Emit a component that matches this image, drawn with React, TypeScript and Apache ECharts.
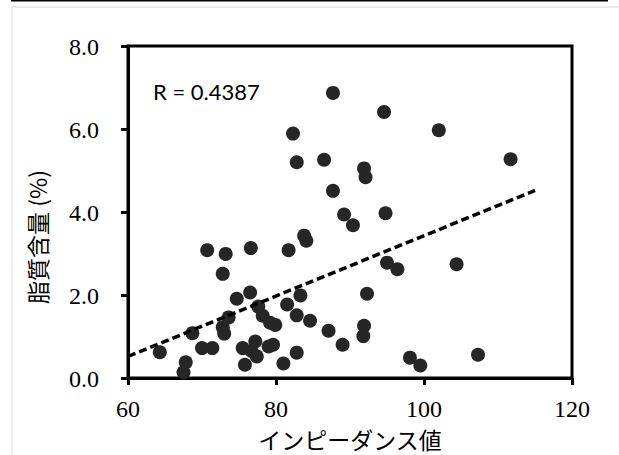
import React, { useEffect, useRef } from "react";
import * as echarts from "echarts";

// Scatter data: [impedance, lipid content (%)]
const impedance: number[] = [
  87.7, 94.6, 102.0, 82.3, 111.7, 82.8, 86.5, 91.9, 92.1, 87.7,
  89.2, 94.8, 90.4, 83.8, 84.1, 70.7, 73.2, 76.6, 81.7, 72.8,
  95.0, 96.4, 104.4, 74.7, 76.5, 83.3, 92.3, 81.5, 77.6, 78.2,
  73.6, 82.8, 84.6, 79.2, 79.9, 72.8, 73.0, 68.7, 87.1, 91.9,
  91.8, 89.0, 64.3, 70.0, 71.4, 75.5, 77.2, 76.7, 79.0, 79.6,
  77.4, 75.8, 82.8, 81.0, 67.8, 67.5, 98.1, 99.5, 107.3,
];
const lipid: number[] = [
  6.87, 6.41, 5.97, 5.89, 5.27, 5.20, 5.26, 5.05, 4.84, 4.51,
  3.94, 3.97, 3.68, 3.43, 3.31, 3.08, 2.99, 3.13, 3.08, 2.51,
  2.78, 2.62, 2.74, 1.91, 2.06, 1.99, 2.03, 1.77, 1.72, 1.50,
  1.46, 1.51, 1.38, 1.33, 1.28, 1.22, 1.07, 1.08, 1.14, 1.26,
  1.01, 0.80, 0.62, 0.72, 0.72, 0.72, 0.88, 0.65, 0.76, 0.80,
  0.52, 0.32, 0.61, 0.35, 0.38, 0.14, 0.49, 0.30, 0.56,
];

// Linear trend line endpoints
const trendX: number[] = [60, 115];
const trendY: number[] = [0.52, 4.52];

// Axis ticks
const xTickValues: number[] = [60, 80, 100, 120];
const yTickValues: number[] = [0, 2, 4, 6, 8];

const xTitle = "インピーダンス値";
const yTitle = "脂質含量 (%)";
const rLabel = "R = 0.4387";

export default function App() {
  const ref = useRef<HTMLDivElement>(null);

  useEffect(() => {
    document.body.style.margin = "0";
    if (!ref.current) return;
    const chart = echarts.init(ref.current, undefined, { renderer: "svg" });

    const points = impedance.map((x, i) => [x, lipid[i]]);
    const trend = trendX.map((x, i) => [x, trendY[i]]);

    const serif = "Times New Roman";
    const cjk = "Noto Sans CJK JP";

    const xMin = xTickValues[0];
    const xMax = xTickValues[xTickValues.length - 1];
    const xInt = xTickValues[1] - xTickValues[0];
    const yMin = yTickValues[0];
    const yMax = yTickValues[yTickValues.length - 1];
    const yInt = yTickValues[1] - yTickValues[0];

    const staticGraphics: any[] = [
      {
        type: "rect",
        shape: { x: 12, y: 7, width: 700, height: 600 },
        style: { fill: "none", stroke: "#d9d9d9", lineWidth: 1 },
        silent: true,
        z: -1,
      },
      {
        type: "rect",
        shape: { x: 11, y: 0, width: 597, height: 1.5 },
        style: { fill: "#000" },
        silent: true,
      },
      {
        type: "text",
        x: 153,
        y: 91,
        style: {
          text: rLabel,
          fontFamily: "Lato",
          fontSize: 22,
          fill: "#000",
          align: "left",
          verticalAlign: "middle",
        },
      },
      {
        type: "text",
        x: 37,
        y: 237,
        rotation: Math.PI / 2,
        style: {
          text: yTitle,
          fontFamily: cjk,
          fontSize: 23,
          fill: "#000",
          align: "center",
          verticalAlign: "middle",
        },
      },
    ];

    chart.setOption({
      animation: false,
      backgroundColor: "#ffffff",
      grid: {
        left: 128,
        top: 46,
        right: 47,
        bottom: 74,
        show: true,
        borderColor: "#000",
        borderWidth: 3,
        backgroundColor: "transparent",
      },
      xAxis: {
        type: "value",
        min: xMin,
        max: xMax,
        interval: xInt,
        axisLine: { show: true, lineStyle: { color: "#000", width: 3 } },
        axisTick: { show: true, inside: false, length: 7, lineStyle: { color: "#000", width: 3 } },
        splitLine: { show: false },
        axisLabel: { show: false },
        name: xTitle,
        nameLocation: "middle",
        nameGap: 49,
        nameTextStyle: { color: "#000", fontFamily: cjk, fontSize: 23 },
      },
      yAxis: {
        type: "value",
        min: yMin,
        max: yMax,
        interval: yInt,
        axisLine: { show: true, lineStyle: { color: "#000", width: 3 } },
        axisTick: { show: true, inside: false, length: 7, lineStyle: { color: "#000", width: 3 } },
        splitLine: { show: false },
        axisLabel: { show: false },
      },
      series: [
        {
          type: "scatter",
          data: points,
          symbol: "circle",
          symbolSize: 14,
          itemStyle: { color: "#262626", opacity: 1 },
          z: 2,
        },
        {
          type: "line",
          data: trend,
          showSymbol: false,
          symbol: "none",
          lineStyle: { color: "#000", width: 3.5, type: [8, 4] },
          z: 3,
        },
      ],
      graphic: staticGraphics,
    });

    // Tick labels placed via the chart's own scales
    const tickLabels: any[] = [];
    xTickValues.forEach((v) => {
      const p = chart.convertToPixel({ gridIndex: 0 }, [v, yMin]) as number[];
      tickLabels.push({
        type: "text",
        x: p[0],
        y: p[1] + 31,
        style: {
          text: String(v),
          fontFamily: serif,
          fontSize: 24,
          fill: "#000",
          align: "center",
          verticalAlign: "middle",
        },
      });
    });
    yTickValues.forEach((v) => {
      const p = chart.convertToPixel({ gridIndex: 0 }, [xMin, v]) as number[];
      tickLabels.push({
        type: "text",
        x: p[0] - 29,
        y: p[1] + 1,
        style: {
          text: v.toFixed(1),
          fontFamily: serif,
          fontSize: 24,
          fill: "#000",
          align: "right",
          verticalAlign: "middle",
        },
      });
    });

    chart.setOption({ graphic: [...staticGraphics, ...tickLabels] });

    return () => chart.dispose();
  }, []);

  return <div ref={ref} style={{ width: 619, height: 455 }} />;
}
